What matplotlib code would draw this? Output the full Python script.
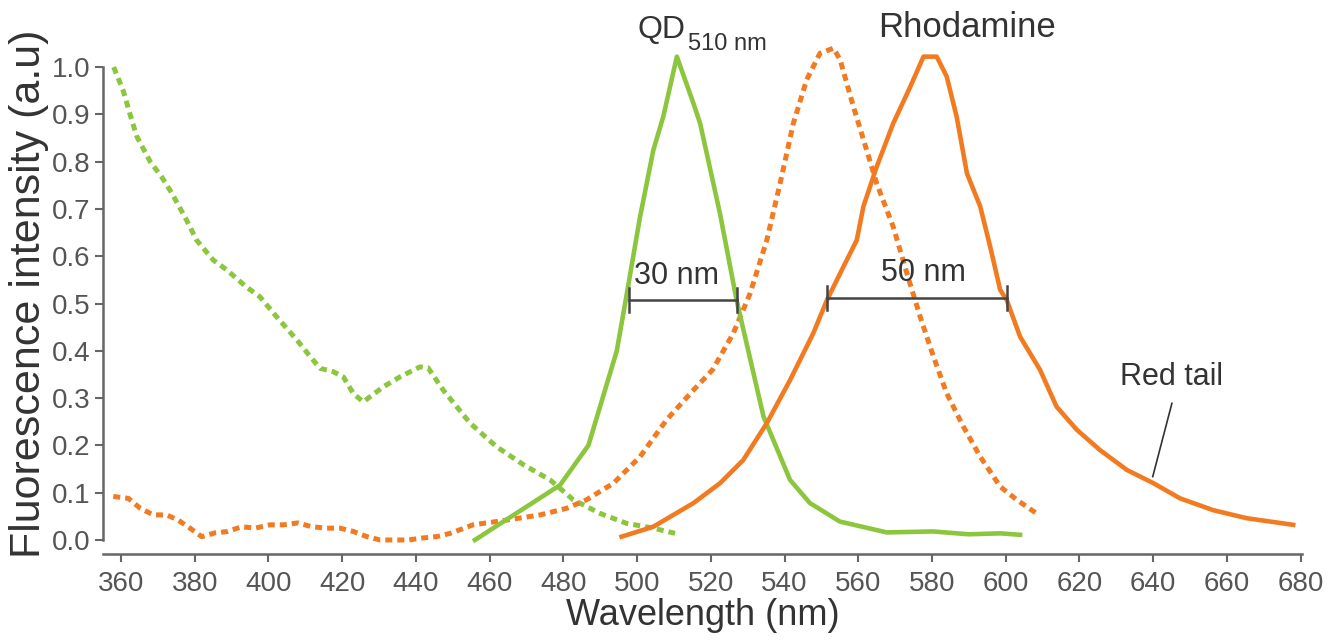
import matplotlib
matplotlib.use("Agg")
import matplotlib.pyplot as plt
from matplotlib import font_manager

# ---------------- data ----------------
qd_abs_wl = [358, 360.6, 362.9, 364.3, 367.9, 371, 373.8, 377.8, 380.5, 385, 388.7, 394, 397.7,
             402.2, 407.7, 411.3, 414, 417.5, 420.3, 423, 425.7, 431.2, 435.7, 441.1, 443.3,
             447.4, 454.7, 461.9, 469.2, 476.4, 482.7, 490, 497.2, 504.4, 510.3]
qd_abs_val = [1.0, 0.95, 0.888, 0.853, 0.80, 0.768, 0.733, 0.676, 0.634, 0.592, 0.571, 0.535, 0.514,
              0.472, 0.423, 0.388, 0.363, 0.356, 0.345, 0.31, 0.292, 0.324, 0.345, 0.366, 0.364,
              0.317, 0.247, 0.197, 0.159, 0.127, 0.085, 0.056, 0.035, 0.025, 0.014]

qd_em_wl = [456.0, 479.1, 486.8, 494.5, 497.2, 500.8, 504.4, 507.1, 510.8, 515.3, 517.1, 522.5,
            527.0, 534.3, 541.5, 546.9, 555.0, 567.7, 580.3, 590.0, 598.5, 603.9]
qd_em_val = [0.0, 0.116, 0.20, 0.40, 0.52, 0.683, 0.824, 0.895, 1.022, 0.923, 0.881, 0.69,
             0.507, 0.261, 0.127, 0.078, 0.039, 0.016, 0.018, 0.012, 0.014, 0.011]

rh_abs_wl = [357.9, 362, 365.2, 368.8, 372.4, 375.5, 378.7, 381.9, 385.5, 389, 392.7, 396.4, 400.4,
             404, 408, 411.7, 415.8, 419.4, 423, 426.7, 430.3, 434, 438, 441.6, 445.6, 449.3,
             455.5, 464.6, 473.7, 480.9, 486.3, 493.6, 500.8, 508, 515.3, 520.5, 526.1, 530.6,
             535.2, 538.8, 542.4, 546, 549.6, 553.3, 555.1, 558.7, 562.3, 565, 569.5, 573.2,
             576.8, 580.4, 584, 588.5, 593.1, 598.5, 603.0, 608.4]
rh_abs_val = [0.092, 0.088, 0.067, 0.053, 0.053, 0.042, 0.025, 0.007, 0.015, 0.018, 0.028, 0.025, 0.032,
              0.032, 0.036, 0.028, 0.025, 0.025, 0.018, 0.007, 0.0, 0.0, 0.0, 0.004, 0.007, 0.014,
              0.032, 0.042, 0.053, 0.067, 0.085, 0.12, 0.176, 0.254, 0.317, 0.36, 0.437, 0.52,
              0.634, 0.754, 0.881, 0.973, 1.029, 1.04, 1.015, 0.916, 0.824, 0.754, 0.662, 0.564,
              0.472, 0.388, 0.31, 0.24, 0.176, 0.113, 0.085, 0.056]

rh_em_wl = [495.8, 504.4, 515.3, 522.5, 528.8, 535.2, 541.5, 547.8, 551.5, 556, 559.6, 561.4, 565,
            569.5, 574.1, 577.7, 581.3, 584, 586.7, 589.5, 593.1, 595.8, 598.5, 600.3, 603.9,
            609.3, 613.8, 619.3, 625.6, 632.9, 640.1, 647.3, 656.3, 665.4, 678]
rh_em_val = [0.007, 0.028, 0.078, 0.12, 0.169, 0.247, 0.338, 0.437, 0.507, 0.578, 0.634, 0.705, 0.789,
             0.881, 0.958, 1.022, 1.022, 0.98, 0.895, 0.775, 0.705, 0.62, 0.529, 0.507, 0.43,
             0.36, 0.282, 0.233, 0.19, 0.148, 0.12, 0.088, 0.063, 0.046, 0.032]

x_ticks = list(range(360, 681, 20))
y_ticks = [0.0, 0.1, 0.2, 0.3, 0.4, 0.5, 0.6, 0.7, 0.8, 0.9, 1.0]
fwhm_qd = (497.9, 527.0, 0.507, "30 nm", 510.8)
fwhm_rh = (551.5, 600.3, 0.512, "50 nm", 577.8)

# ---------------- style ----------------
avail = {f.name for f in font_manager.fontManager.ttflist}
narrow = "Liberation Sans Narrow" if "Liberation Sans Narrow" in avail else "Liberation Sans"
regular = "Liberation Sans"

GREEN = "#8cc63e"
ORANGE = "#f27b22"
TXT = "#333333"
AX = "#666666"

fig = plt.figure(figsize=(13.27, 6.41), dpi=100)
ax = fig.add_axes([102.6 / 1327, (641 - 544.7) / 641, (1302.4 - 102.6) / 1327, (544.7 - 43.4) / 641])

dot = (0, (1.4, 1.0))
ax.plot(qd_abs_wl, qd_abs_val, color=GREEN, lw=3.6, ls=dot, clip_on=False)
ax.plot(rh_abs_wl, rh_abs_val, color=ORANGE, lw=3.6, ls=dot, clip_on=False)
ax.plot(qd_em_wl, qd_em_val, color=GREEN, lw=3.3, clip_on=False)
ax.plot(rh_em_wl, rh_em_val, color=ORANGE, lw=3.3, clip_on=False)

ax.set_xlim(355, 680.5)
ax.set_ylim(-0.01, 1.05)

for sp in ["top", "right"]:
    ax.spines[sp].set_visible(False)
ax.spines["left"].set_bounds(0, 1.0)
ax.spines["bottom"].set_position(("outward", 7))
for sp in ["left", "bottom"]:
    ax.spines[sp].set_color(AX)
    ax.spines[sp].set_linewidth(1.8)

ax.set_xticks(x_ticks)
ax.set_yticks(y_ticks)
ax.set_xticklabels([str(t) for t in x_ticks])
ax.set_yticklabels([f"{t:.1f}" for t in y_ticks])
ax.tick_params(axis="both", direction="out", length=6, width=1.5, color=AX,
               labelcolor="#555555", labelsize=20)
for lab in ax.get_xticklabels() + ax.get_yticklabels():
    lab.set_fontfamily(narrow)
ax.tick_params(axis="x", pad=6)
ax.tick_params(axis="y", pad=3)

ax.set_xlabel("Wavelength (nm)", fontsize=26, color=TXT, family=narrow, labelpad=1)
ax.set_ylabel("Fluorescence intensity (a.u)", fontsize=31, color=TXT, family=regular, labelpad=2)

# FWHM bars
for x0, x1, yv, lab, xt in (fwhm_qd, fwhm_rh):
    ax.plot([x0, x1], [yv, yv], color="#444444", lw=1.8)
    ax.plot([x0, x0], [yv - 0.025, yv + 0.025], color="#444444", lw=1.8)
    ax.plot([x1, x1], [yv - 0.025, yv + 0.025], color="#444444", lw=1.8)
    ax.text(xt, yv + 0.02, lab, ha="center", va="bottom", fontsize=22,
            color=TXT, family=regular)

# labels
ax.text(500.0, 1.061, "QD", fontsize=23, color=TXT, family=narrow, va="baseline", ha="left")
ax.text(513.8, 1.036, "510 nm", fontsize=17, color=TXT, family=narrow, va="baseline", ha="left")
ax.text(565.4, 1.063, "Rhodamine", fontsize=25, color=TXT, family=narrow, va="baseline", ha="left")

ax.text(645.0, 0.345, "Red tail", fontsize=22, color=TXT, family=regular, ha="center", va="center")
ax.plot([645.1, 639.9], [0.289, 0.134], color="#333333", lw=1.2)

fig.savefig("out.png", dpi=100, facecolor="white")
